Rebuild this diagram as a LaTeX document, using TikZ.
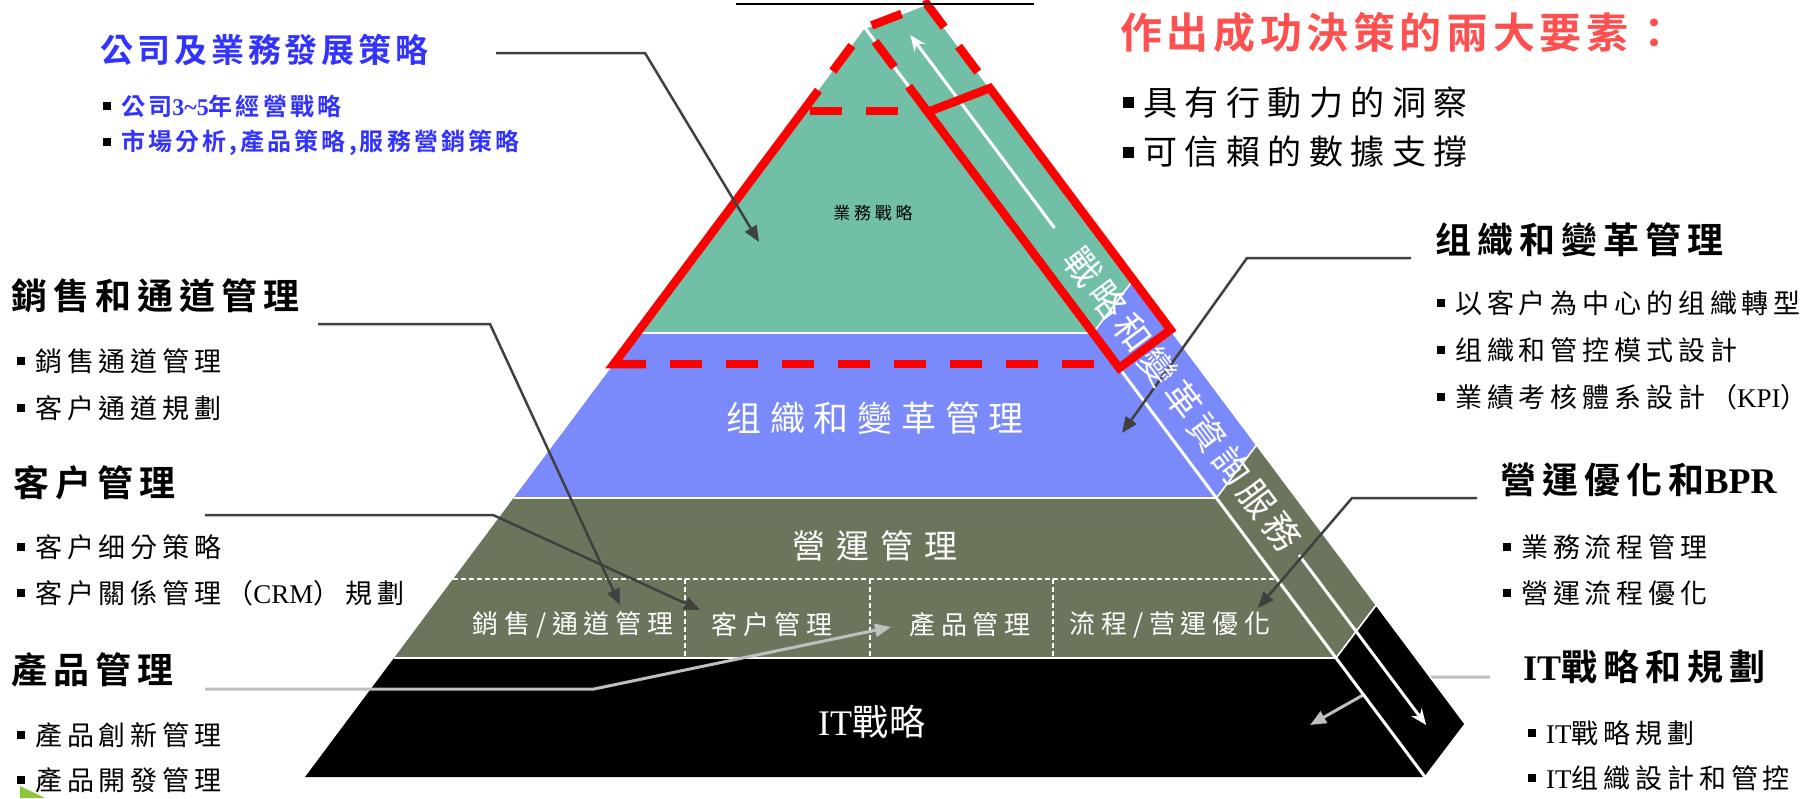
\documentclass[tikz,border=0pt]{standalone}
\usepackage{fontspec}
\setmainfont{Noto Sans CJK TC}[BoldFont={Noto Sans CJK TC Bold}]
\newfontfamily\latinfont{Liberation Serif}
\usepackage{tikz}
\usetikzlibrary{arrows.meta}
\pgfdeclarelayer{filllayer}
\pgfdeclarelayer{edgelayer}
\pgfdeclarelayer{nodelayer}
\pgfsetlayers{filllayer,main,edgelayer,nodelayer}
\definecolor{bizgreen}{RGB}{114,191,168}
\definecolor{orgblue}{RGB}{122,138,250}
\definecolor{opsgray}{RGB}{107,117,92}
\definecolor{titleblue}{RGB}{51,51,255}
\definecolor{headred}{RGB}{255,80,80}
\definecolor{linedark}{RGB}{64,64,64}
\definecolor{linelight}{RGB}{191,191,191}
\definecolor{navgreen}{RGB}{140,198,63}
\newcommand{\fsz}[1]{\fontsize{#1}{#1}\selectfont}
\newcommand{\trk}[1]{\addfontfeature{LetterSpace=#1}}
\newcommand{\sqbul}[1]{{\color{black}\rule[\dimexpr0.38em-#1/2\relax]{#1}{#1}}}

\begin{document}
\begin{tikzpicture}[x=1pt, y=-1pt,
	hdr/.style={anchor=west, inner sep=0pt, font=\fsz{36}\bfseries\trk{17}},
	smallbul/.style={anchor=west, inner sep=0pt, font=\fsz{27}\trk{18}},
	bigbul/.style={anchor=west, inner sep=0pt, font=\fsz{34}\trk{22}},
	bluetitle/.style={anchor=west, inner sep=0pt, text=titleblue, font=\fsz{33}\bfseries\trk{12}},
	bluebul/.style={anchor=west, inner sep=0pt, text=titleblue, font=\fsz{24}\bfseries\trk{13}},
	redhead/.style={anchor=west, inner sep=0pt, text=headred, font=\fsz{42}\bfseries\trk{11}},
	laytext/.style={inner sep=0pt, text=white},
	celltext/.style={laytext, font=\fsz{26}\trk{22}},
	redline/.style={draw=red, line width=8.5pt, line join=miter},
	reddash/.style={redline, dash pattern=on 32pt off 24pt},
	darkarrow/.style={draw=linedark, line width=2.5pt, -{Triangle[length=16pt,width=13pt]}},
	lightarrow/.style={draw=linelight, line width=3pt, -{Triangle[length=16pt,width=13pt]}},
	whitearrow/.style={draw=white, line width=3pt, -{Stealth[length=16pt,width=13pt]}},
	cellline/.style={draw=white, line width=1.3pt, dash pattern=on 5pt off 3pt},
	sepline/.style={draw=white, line width=2.5pt},
	stripcell/.style={draw=white, line width=1.5pt},
]
	\useasboundingbox (0,0) rectangle (1809,798);
	\begin{pgfonlayer}{nodelayer}
		\node [] (0) at (865, 28) {};
		\node [] (1) at (636.95, 333) {};
		\node [] (2) at (1093.05, 333) {};
		\node [] (3) at (513.6, 498) {};
		\node [] (4) at (1216.4, 498) {};
		\node [] (5) at (393.95, 658) {};
		\node [] (6) at (1336.05, 658) {};
		\node [] (7) at (305, 777) {};
		\node [] (8) at (1425, 777) {};
		\node [] (9) at (926.9, 4.1) {};
		\node [] (10) at (1133.3, 280) {};
		\node [] (11) at (1256.6, 445) {};
		\node [] (12) at (1376.3, 605) {};
		\node [] (13) at (1465.2, 724) {};
		\node [] (14) at (453, 579) {};
		\node [] (15) at (1277, 579) {};
		\node [] (16) at (685, 579) {};
		\node [] (17) at (685, 658) {};
		\node [] (18) at (870, 579) {};
		\node [] (19) at (870, 658) {};
		\node [] (20) at (1053, 579) {};
		\node [] (21) at (1053, 658) {};
		\node [] (22) at (613.8, 364) {};
		\node [] (23) at (1100, 364) {};
		\node [] (24) at (799.2, 116) {};
		\node [] (25) at (810, 111) {};
		\node [] (26) at (905, 111) {};
		\node [] (27) at (927.8, 112) {};
		\node [] (28) at (989.8, 88.1) {};
		\node [] (29) at (1119.2, 368) {};
		\node [] (30) at (1170.5, 329.7) {};
		\node [] (31) at (1054.5, 228) {};
		\node [] (32) at (910.2, 35) {};
		\node [] (33) at (1299, 555) {};
		\node [] (34) at (1426.1, 725) {};
		\node [] (35) at (496, 53) {};
		\node [] (36) at (645, 53) {};
		\node [] (37) at (759, 242) {};
		\node [] (38) at (1411, 258) {};
		\node [] (39) at (1247, 258) {};
		\node [] (40) at (1122, 433) {};
		\node [] (41) at (1477, 498) {};
		\node [] (42) at (1352, 498) {};
		\node [] (43) at (1258, 608) {};
		\node [] (44) at (1490, 677) {};
		\node [] (45) at (1395, 677) {};
		\node [] (46) at (1310, 725) {};
		\node [] (47) at (318, 324) {};
		\node [] (48) at (490, 324) {};
		\node [] (49) at (620, 605) {};
		\node [] (50) at (205, 515) {};
		\node [] (51) at (493, 515) {};
		\node [] (52) at (700, 610) {};
		\node [] (53) at (205, 689) {};
		\node [] (54) at (594, 689) {};
		\node [] (55) at (891, 627) {};
		\node [] (56) at (736, 4) {};
		\node [] (57) at (1034, 4) {};
		\node [] (58) at (20, 786) {};
		\node [] (59) at (20, 798) {};
		\node [] (60) at (45, 798) {};
		\node [bluetitle] (61) at (100, 50) {公司及業務發展策略};
		\node [bluebul] (62) at (103, 106) {\sqbul{8pt}\hspace{10pt}公司{\latinfont 3\textasciitilde5}年經營戰略};
		\node [bluebul] (63) at (103, 143) {\sqbul{8pt}\hspace{10pt}市場分析,產品策略,服務營銷策略};
		\node [redhead] (64) at (1120, 33) {作出成功決策的兩大要素：};
		\node [bigbul] (65) at (1123, 103) {\sqbul{11pt}\hspace{9pt}具有行動力的洞察};
		\node [bigbul] (66) at (1123, 152) {\sqbul{11pt}\hspace{9pt}可信賴的數據支撐};
		\node [hdr] (67) at (1435, 240) {组織和變革管理};
		\node [hdr] (68) at (1500, 480) {營運優化和{\latinfont BPR}};
		\node [hdr] (69) at (1523, 667) {{\latinfont IT}戰略和規劃};
		\node [hdr] (70) at (11, 296) {銷售和通道管理};
		\node [hdr] (71) at (13, 483) {客户管理};
		\node [hdr] (72) at (11, 670) {產品管理};
		\node [smallbul] (73) at (17, 361) {\sqbul{8pt}\hspace{10pt}銷售通道管理};
		\node [smallbul] (74) at (17, 408) {\sqbul{8pt}\hspace{10pt}客户通道規劃};
		\node [smallbul] (75) at (17, 547) {\sqbul{8pt}\hspace{10pt}客户细分策略};
		\node [smallbul] (76) at (17, 593) {\sqbul{8pt}\hspace{10pt}客户關係管理（{\latinfont CRM}）規劃};
		\node [smallbul] (77) at (17, 735) {\sqbul{8pt}\hspace{10pt}產品創新管理};
		\node [smallbul] (78) at (17, 780) {\sqbul{8pt}\hspace{10pt}產品開發管理};
		\node [smallbul] (79) at (1437, 303) {\sqbul{8pt}\hspace{10pt}以客户為中心的组織轉型};
		\node [smallbul] (80) at (1437, 350) {\sqbul{8pt}\hspace{10pt}组織和管控模式設計};
		\node [smallbul] (81) at (1437, 397) {\sqbul{8pt}\hspace{10pt}業績考核體系設計（{\latinfont KPI}）};
		\node [smallbul] (82) at (1503, 547) {\sqbul{8pt}\hspace{10pt}業務流程管理};
		\node [smallbul] (83) at (1503, 593) {\sqbul{8pt}\hspace{10pt}營運流程優化};
		\node [smallbul] (84) at (1528, 733) {\sqbul{8pt}\hspace{10pt}{\latinfont IT}戰略規劃};
		\node [smallbul] (85) at (1528, 778) {\sqbul{8pt}\hspace{10pt}{\latinfont IT}组織設計和管控};
		\node [inner sep=0pt, font=\fsz{17}\trk{22}] (86) at (873, 213) {業務戰略};
		\node [laytext, font=\fsz{35}\trk{25}] (87) at (875, 418) {组織和變革管理};
		\node [laytext, font=\fsz{33}\trk{33}] (88) at (875, 546) {營運管理};
		\node [celltext] (89) at (573, 625) {銷售/通道管理};
		\node [celltext] (90) at (772, 625) {客户管理};
		\node [celltext] (91) at (970, 625) {產品管理};
		\node [celltext] (92) at (1170, 625) {流程/营運優化};
		\node [laytext, font=\fsz{36}\trk{5}] (93) at (872, 722) {{\latinfont IT}戰略};
		\node [laytext, font=\fsz{36}\trk{15}, rotate=-53.13] (94) at (1182.8, 399.4) {戰略和變革資詢服務};
	\end{pgfonlayer}
	\begin{pgfonlayer}{filllayer}
		\fill [bizgreen] (0.center) -- (2.center) -- (1.center) -- cycle;
		\fill [orgblue] (1.center) -- (2.center) -- (4.center) -- (3.center) -- cycle;
		\fill [opsgray] (3.center) -- (4.center) -- (6.center) -- (5.center) -- cycle;
		\fill [black] (5.center) -- (6.center) -- (8.center) -- (7.center) -- cycle;
		\fill [navgreen] (58.center) -- (59.center) -- (60.center) -- cycle;
		\draw [lightarrow] (44.center) -- (45.center) -- (46.center);
		\filldraw [stripcell, fill=bizgreen] (0.center) -- (9.center) -- (10.center) -- (2.center) -- cycle;
		\filldraw [stripcell, fill=orgblue] (2.center) -- (10.center) -- (11.center) -- (4.center) -- cycle;
		\filldraw [stripcell, fill=opsgray] (4.center) -- (11.center) -- (12.center) -- (6.center) -- cycle;
		\filldraw [stripcell, fill=black] (6.center) -- (12.center) -- (13.center) -- (8.center) -- cycle;
		\draw [sepline] (1.center) -- (2.center);
		\draw [sepline] (3.center) -- (4.center);
		\draw [sepline] (5.center) -- (6.center);
		\draw [draw=white, line width=3pt] (0.center) -- (8.center);
		\draw [cellline] (14.center) -- (15.center);
		\draw [cellline] (16.center) -- (17.center);
		\draw [cellline] (18.center) -- (19.center);
		\draw [cellline] (20.center) -- (21.center);
	\end{pgfonlayer}
	\begin{pgfonlayer}{edgelayer}
		\draw [whitearrow] (31.center) -- (32.center);
		\draw [whitearrow] (33.center) -- (34.center);
		\draw [reddash] (22.center) -- (23.center);
		\draw [redline] (24.center) -- (22.center) -- ++(32, 0);
		\draw [reddash] (24.center) -- (0.center);
		\draw [reddash] (25.center) -- (26.center);
		\draw [redline] (27.center) -- (28.center) -- (30.center) -- (29.center) -- cycle;
		\draw [reddash] (27.center) -- (0.center) -- (9.center) -- (28.center);
		\draw [darkarrow] (35.center) -- (36.center) -- (37.center);
		\draw [darkarrow] (38.center) -- (39.center) -- (40.center);
		\draw [darkarrow] (41.center) -- (42.center) -- (43.center);
		\draw [darkarrow] (47.center) -- (48.center) -- (49.center);
		\draw [darkarrow] (50.center) -- (51.center) -- (52.center);
		\draw [lightarrow] (53.center) -- (54.center) -- (55.center);
		\draw [draw=black, line width=1.5pt] (56.center) -- (57.center);
	\end{pgfonlayer}
\end{tikzpicture}
\end{document}
